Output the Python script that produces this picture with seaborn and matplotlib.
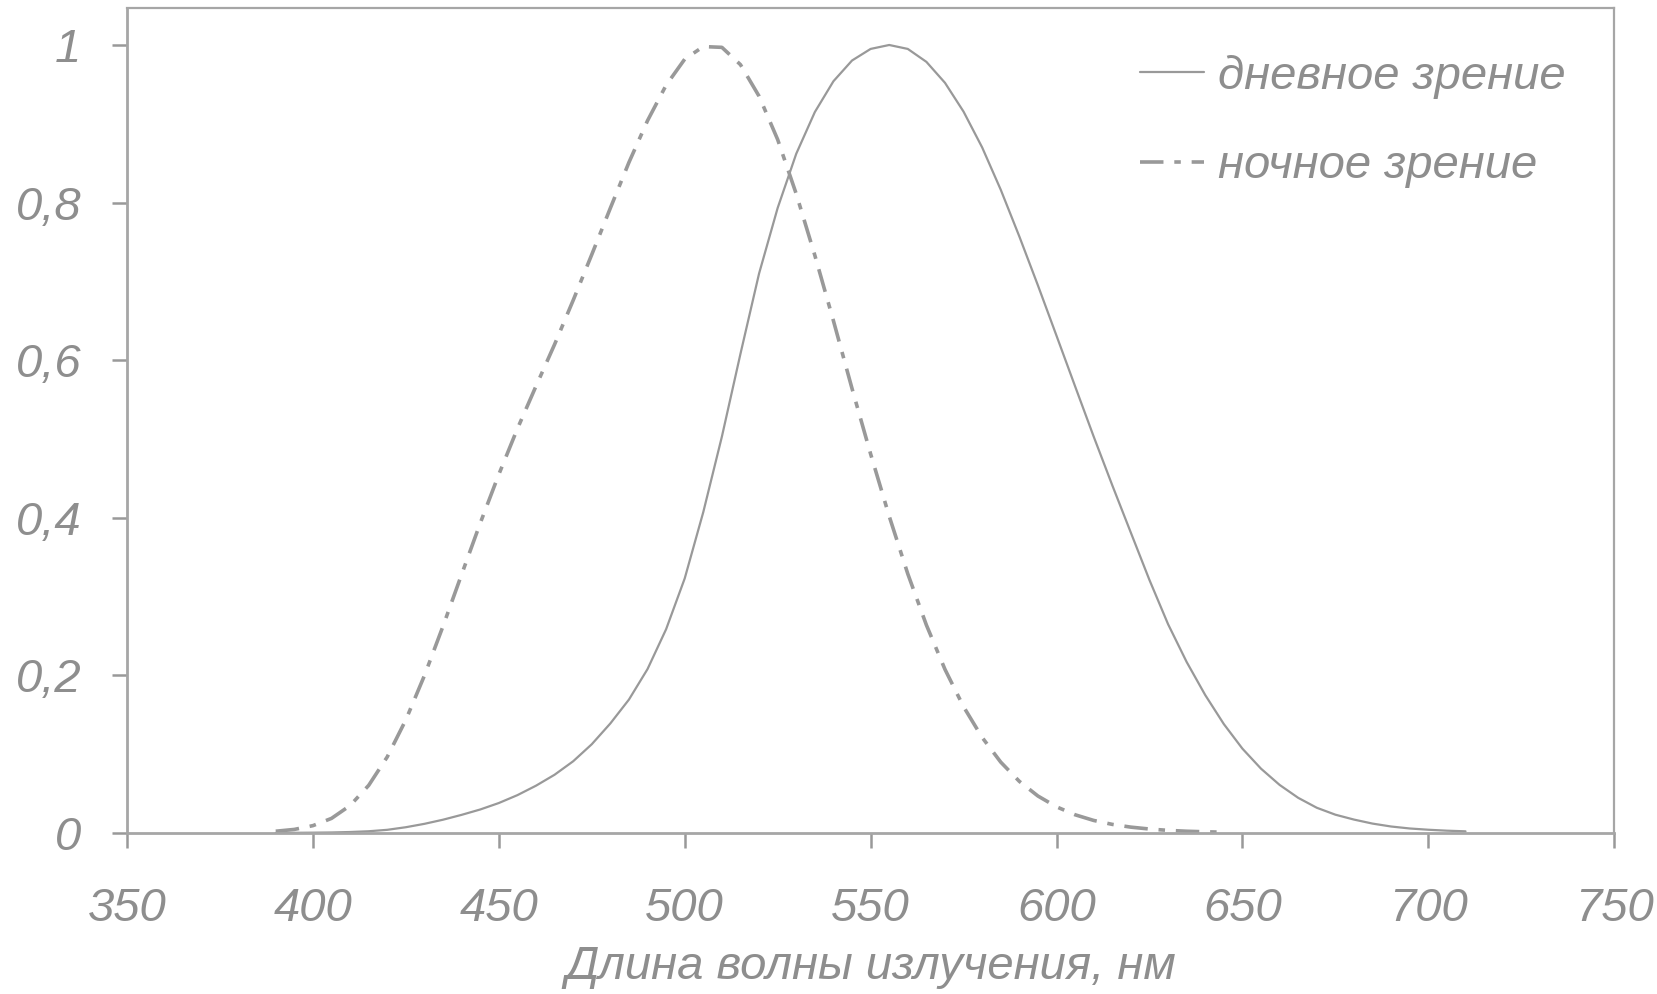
import numpy as np
import pandas as pd
import seaborn as sns
import matplotlib.pyplot as plt

# wavelengths, nm
day_nm = list(range(390, 715, 5))
day_v = [0.00012, 0.000217, 0.000396, 0.00064, 0.00121, 0.00218, 0.004, 0.0073,
         0.0116, 0.01684, 0.023, 0.0298, 0.038, 0.048, 0.06, 0.0739, 0.091,
         0.1126, 0.139, 0.1693, 0.208, 0.2586, 0.323, 0.4073, 0.503, 0.6082,
         0.71, 0.7932, 0.862, 0.9149, 0.954, 0.9803, 0.995, 1.0, 0.995, 0.9786,
         0.952, 0.9154, 0.87, 0.8163, 0.757, 0.6949, 0.631, 0.5668, 0.503,
         0.4412, 0.381, 0.321, 0.265, 0.217, 0.175, 0.1382, 0.107, 0.0816,
         0.061, 0.0446, 0.032, 0.0232, 0.017, 0.0119, 0.0082, 0.0057, 0.0041,
         0.0029, 0.0021]

night_nm = list(range(390, 650, 5))
night_v = [0.0022, 0.0045, 0.0093, 0.0185, 0.0348, 0.0604, 0.0966, 0.1436,
           0.1998, 0.2625, 0.3281, 0.3931, 0.455, 0.513, 0.567, 0.62, 0.676,
           0.734, 0.793, 0.851, 0.904, 0.949, 0.982, 0.998, 0.997, 0.975,
           0.935, 0.88, 0.811, 0.733, 0.65, 0.564, 0.481, 0.402, 0.3288,
           0.2639, 0.2076, 0.1602, 0.1212, 0.0899, 0.0655, 0.0469, 0.0332,
           0.0231, 0.0159, 0.0109, 0.0074, 0.005, 0.0033, 0.0022, 0.0015, 0.001]

x_ticks = [350, 400, 450, 500, 550, 600, 650, 700, 750]
y_ticks = [0, 0.2, 0.4, 0.6, 0.8, 1.0]
y_labels = ['0', '0,2', '0,4', '0,6', '0,8', '1']

day = pd.DataFrame({'nm': day_nm, 'v': day_v})
night = pd.DataFrame({'nm': night_nm, 'v': night_v})

sns.set_style('white')
plt.rcParams['font.family'] = ['Liberation Sans', 'DejaVu Sans']
plt.rcParams['font.style'] = 'italic'

gray = '#999999'
txt = '#8e8e8e'

fig = plt.figure(figsize=(16.58, 9.94), dpi=100)
ax = fig.add_axes([0.0766, 0.162, 0.897, 0.830])

sns.lineplot(data=day, x='nm', y='v', ax=ax, color=gray, lw=1.6,
             label='дневное зрение')
sns.lineplot(data=night, x='nm', y='v', ax=ax, color=gray, lw=2.6,
             linestyle=(0, (6.5, 3, 1.8, 3)), label='ночное зрение')

ax.set_xlim(350, 750)
ax.set_ylim(0, 1.047)
ax.set_xticks(x_ticks)
ax.set_yticks(y_ticks)
ax.set_yticklabels(y_labels)

for s in ax.spines.values():
    s.set_color('#a6a6a6')
    s.set_linewidth(1.6)
ax.spines['left'].set_linewidth(2.0)
ax.spines['bottom'].set_linewidth(2.0)

ax.tick_params(axis='both', direction='out', length=11, width=1.8,
               color=gray, labelcolor=txt, labelsize=34)
ax.tick_params(axis='y', pad=22, left=True)
ax.tick_params(axis='x', pad=28, bottom=True)

ax.set_xlabel('Длина волны излучения, нм', fontsize=34, color=txt, labelpad=10)
ax.set_ylabel('')

leg = ax.legend(loc='upper right', bbox_to_anchor=(0.996, 0.995), frameon=False,
                fontsize=34, handlelength=1.35, handletextpad=0.3,
                labelspacing=0.97)
for t in leg.get_texts():
    t.set_color(txt)

fig.savefig('out.png', dpi=100)
